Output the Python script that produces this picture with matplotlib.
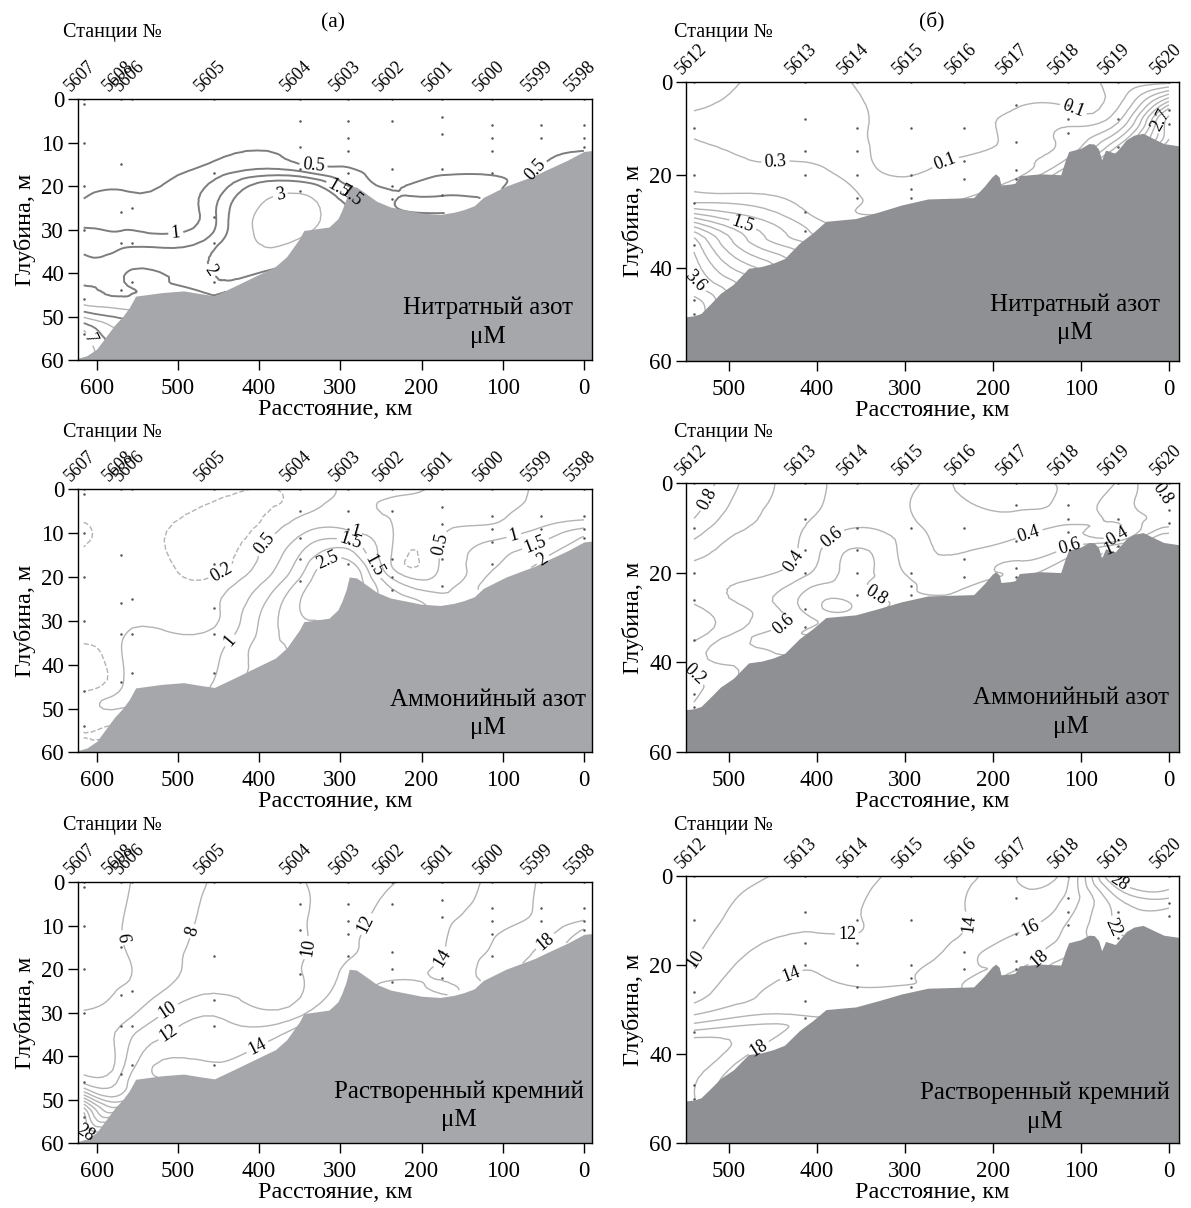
import numpy as np
import matplotlib
matplotlib.use('Agg')
import matplotlib.pyplot as plt
import matplotlib.tri as mtri

# Fuente tipo Times con cirilico
plt.rcParams['font.family'] = ['Liberation Serif', 'DejaVu Serif']

# ---------------- Seccion (а): estaciones 5607-5598 ----------------
st_izq = ['5607', '5608', '5606', '5605', '5604', '5603', '5602', '5601', '5600', '5599', '5598']
km_izq = [616, 570, 556, 456, 350, 290, 236, 175, 113, 53, 0]
# profundidades de muestreo en cada estacion, m
prof_izq = [
    [0, 1, 10, 20, 30, 46, 54],
    [0, 15, 26, 33, 44],
    [0, 25, 33, 42],
    [0, 17, 27, 33, 42],
    [0, 5, 11, 16, 21],
    [0, 5, 9, 12, 17],
    [0, 5, 16, 20, 23],
    [0, 4, 8, 16, 22],
    [0, 6, 9, 12, 17],
    [0, 6, 9],
    [0, 6, 9, 11],
]
# relieve del fondo
fondo_km_izq = [623, 612, 600, 590, 578, 568, 560, 552, 520, 493, 470, 455, 430, 399, 380,
                366, 350, 345, 314, 303, 298, 293, 289, 280, 270, 255, 238, 200, 177, 160,
                148, 135, 124, 96, 60, 48, 20, 0, -10]
fondo_m_izq = [59.6, 59, 57.5, 55, 52, 50, 48, 45.3, 44.5, 44.1, 44.8, 45.2, 43, 40.2, 38.5,
               36.2, 32, 30.2, 29.4, 27.5, 25.5, 23, 20, 20.2, 21.5, 23.5, 24.8, 26.2, 26.5, 26,
               25.4, 24.5, 22.6, 20, 17.5, 16.4, 14, 12, 11.8]

# nitratos, uM (ultimo arreglo: valor junto al fondo de cada estacion)
no3_izq = [
    [0.1, 0.1, 0.15, 0.3, 1.05, 2.5, 7.3],
    [0.1, 0.2, 0.8, 1.3, 1.9],
    [0.1, 0.7, 1.35, 2.05],
    [0.1, 0.8, 1.4, 1.8, 1.95],
    [0.1, 0.15, 0.3, 0.8, 2.8],
    [0.1, 0.1, 0.15, 0.25, 0.6],
    [0.1, 0.1, 0.3, 0.45, 0.55],
    [0.1, 0.1, 0.1, 0.3, 0.55],
    [0.1, 0.1, 0.1, 0.2, 0.45],
    [0.1, 0.1, 0.1],
    [0.1, 0.1, 0.1, 0.2],
]
no3_izq_fondo = [8.0, 4.0, 2.3, 2.0, 3.0, 1.2, 0.6, 0.6, 0.55, 0.55, 0.55]

# amonio, uM
nh4_izq = [
    [0.3, 0.3, 0.18, 0.3, 0.35, 0.18, 0.25],
    [0.3, 0.3, 0.4, 0.45, 0.45],
    [0.3, 0.4, 0.55, 0.62],
    [0.3, 0.12, 0.4, 0.62, 0.95],
    [0.3, 0.4, 1.05, 1.6, 2.1],
    [0.55, 0.6, 0.95, 1.6, 2.7],
    [0.6, 0.45, 0.45, 0.9, 1.55],
    [0.45, 0.4, 0.4, 0.55, 0.8],
    [0.4, 0.45, 0.6, 1.05, 1.4],
    [0.55, 0.7, 1.05],
    [0.55, 0.8, 1.55, 2.05],
]
nh4_izq_fondo = [0.3, 0.45, 0.62, 1.05, 2.3, 3.0, 1.8, 1.2, 1.8, 2.05, 2.2]

# silicio, uM
si_izq = [
    [5, 5, 5, 5.2, 6.3, 9.6, 27],
    [5.5, 5.9, 6.3, 8.05, 10.0],
    [6.1, 6.5, 9.0, 11.5],
    [8.1, 8.8, 10.5, 12.5, 14.1],
    [9.9, 9.8, 9.8, 9.8, 9.9],
    [10.5, 11, 11.3, 11.5, 11.8],
    [11.9, 12.5, 13, 13.5, 14.1],
    [12.8, 13.2, 13.6, 13.9, 14.1],
    [14.5, 14.8, 15.2, 15.8, 16.5],
    [16.1, 16.2, 16.5],
    [16.1, 16.5, 18.2, 20.2],
]
si_izq_fondo = [30, 14, 12.5, 14.5, 13, 12.5, 14.5, 14.5, 17, 18.5, 21]

# ---------------- Seccion (б): estaciones 5612-5620 ----------------
st_der = ['5612', '5613', '5614', '5615', '5616', '5617', '5618', '5619', '5620']
km_der = [540, 414, 355, 293, 233, 174, 115, 58, 0]
prof_der = [
    [0, 10, 20, 26, 35, 47, 50],
    [0, 8, 15, 20, 28, 32],
    [0, 10, 15, 20, 25],
    [0, 10, 20, 23, 25],
    [0, 10, 17, 21],
    [0, 5, 13, 19, 21],
    [0, 5, 8, 11],
    [0, 8, 14],
    [0, 6, 9],
]
fondo_km_der = [549, 540, 532, 520, 510, 495, 478, 463, 450, 437, 420, 405, 390, 356, 330,
                304, 274, 222, 210, 201, 197, 193, 191, 180, 175, 170, 146, 123, 118, 114,
                100, 91, 85, 80, 76.5, 72, 61, 55, 48.6, 40, 29.5, 20, 6, -11.4]
fondo_m_der = [50.5, 50.3, 49.8, 47.5, 45.5, 43.5, 40.1, 39.7, 39, 38, 34.7, 32.5, 30, 29.4, 28,
               26.5, 25.2, 24.9, 22.5, 20.4, 19.8, 20.5, 22.2, 22, 21.8, 20.2, 19.8, 20, 17, 15,
               14.3, 13.3, 13.4, 14.5, 16.8, 14.7, 15.4, 14, 12.5, 11.5, 11.1, 12, 13.3, 13.8]

no3_der = [
    [0.35, 0.28, 0.5, 0.9, 3.2, 4.0, 4.2],
    [0.2, 0.2, 0.25, 0.35, 0.62, 0.95],
    [0.09, 0.12, 0.15, 0.22, 0.32],
    [0.06, 0.07, 0.09, 0.15, 0.2],
    [0.05, 0.08, 0.15, 0.22],
    [0.05, 0.09, 0.15, 0.25, 0.32],
    [0.07, 0.09, 0.2, 0.35],
    [0.12, 0.5, 1.55],
    [0.15, 2.5, 3.3],
]
no3_der_fondo = [4.2, 1.1, 0.35, 0.25, 0.28, 0.4, 0.5, 1.7, 3.5]

nh4_der = [
    [1.0, 0.72, 0.35, 0.25, 0.18, 0.15, 0.22],
    [0.35, 0.38, 0.45, 0.55, 0.85, 0.75],
    [0.5, 0.6, 0.82, 0.85, 0.9],
    [0.45, 0.45, 0.55, 0.62, 0.65],
    [0.15, 0.3, 0.45, 0.55],
    [0.15, 0.18, 0.42, 0.62, 0.7],
    [0.22, 0.25, 0.32, 0.45],
    [0.42, 0.45, 0.9],
    [0.95, 0.75, 0.7],
]
nh4_der_fondo = [0.22, 0.8, 0.9, 0.7, 0.65, 0.75, 0.7, 1.05, 1.05]

si_der = [
    [8.5, 9, 10.1, 11, 18.5, 20.1, 20.1],
    [10.5, 11.5, 12.5, 13.8, 15, 16.5],
    [11.5, 11.9, 12.3, 13.1, 14.1],
    [12.5, 13.1, 13.5, 13.9, 14.5],
    [13.5, 13.9, 15, 15.5],
    [14.1, 14.6, 16.0, 17.3, 17.8],
    [15.5, 16.5, 17.3, 18.2],
    [29.5, 22.6, 21.6],
    [30, 25, 23],
]
si_der_fondo = [20.1, 17, 15.1, 15.1, 16.1, 18.3, 18.8, 21.5, 22.5]

gris_claro = '#b3b3b3'
gris_osc = '#7d7d7d'
tierra_izq = '#a6a7aa'
tierra_der = '#8f9093'

fig = plt.figure(figsize=(11.91, 12.08), dpi=100)


def seccion(rect, kms, profs, vals, vals_fondo, fkm, fm, nombres, xlim, xticks, yticks,
            niveles, suelo, colores, estilos, grosores, etiquetas, titulo):
    ax = fig.add_axes(rect)
    ax.set_xlim(*xlim)
    ax.set_ylim(60, 0)
    # nodos: muestras y un punto junto al fondo en cada estacion
    fkm_a = np.array(fkm, float)[::-1]
    fm_a = np.array(fm, float)[::-1]
    fondo_est = np.interp(kms, fkm_a, fm_a)
    x, y, z = [], [], []
    mx, my = [], []
    for k, ds, vs, vf, fd in zip(kms, profs, vals, vals_fondo, fondo_est):
        x += [k] * len(ds)
        y += list(ds)
        z += list(vs)
        mx += [k] * len(ds)
        my += list(ds)
        x.append(k)
        y.append(max(fd, ds[-1] + 0.5))
        z.append(vf)
    x = np.array(x, float)
    y = np.array(y, float)
    z = np.array(z, float)
    # triangulacion en coordenadas escaladas y refinamiento suave
    t = mtri.Triangulation(x, y * 8)
    tf, zf = mtri.UniformTriRefiner(t).refine_field(z, subdiv=3)
    tf = mtri.Triangulation(tf.x, tf.y / 8, tf.triangles)
    cs = ax.tricontour(tf, zf, levels=niveles, colors=colores, linestyles=estilos,
                       linewidths=grosores, zorder=2)
    ax.plot(mx, my, 'o', ms=1.8, color='#555555', mec='none', zorder=2.5)
    ax.fill_between(fkm, fm, 65, color=suelo, lw=0, zorder=3)
    ax.clabel(cs, fmt='%g', fontsize=13, inline=True, inline_spacing=3, colors='k',
              manual=etiquetas)

    ax.set_xticks(xticks)
    ax.set_yticks(yticks)
    ax.tick_params(direction='out', length=7, width=1, labelsize=16.5,
                   top=False, right=False)
    ax.tick_params(axis='x', pad=6)
    ax.tick_params(axis='y', pad=3)
    for s in ax.spines.values():
        s.set_linewidth(1.0)
        s.set_zorder(5)
    ax.set_xlabel('Расстояние, км', fontsize=17.5, labelpad=0)
    ax.set_ylabel('Глубина, м', fontsize=17.5, labelpad=4)
    for k, n in zip(kms, nombres):
        ax.annotate(n, (k, 0), xytext=(-7, 3), textcoords='offset points', rotation=45,
                    rotation_mode='anchor', ha='left', va='bottom', fontsize=13,
                    annotation_clip=False)
    tx, ty1, ty2 = titulo[1], titulo[2], titulo[3]
    ax.text(tx, ty1, titulo[0], transform=ax.transAxes, ha='center', va='center',
            fontsize=18, zorder=6)
    ax.text(tx, ty2, 'μM', transform=ax.transAxes, ha='center', va='center',
            fontsize=18, zorder=6)
    return ax


xl_izq = (623, -10)
xl_der = (549, -11.4)
xt_izq = [600, 500, 400, 300, 200, 100, 0]
xt_der = [500, 400, 300, 200, 100, 0]
yt_izq = [0, 10, 20, 30, 40, 50, 60]
yt_der = [0, 20, 40, 60]

# --- Nitratos (а)
niv = [0.5, 1, 1.5, 2, 3, 4, 5, 6, 7]
col = [gris_osc, gris_osc, gris_osc, gris_osc, gris_claro, gris_osc, gris_claro, gris_osc, gris_claro]
grs = [1.4, 1.4, 1.4, 1.4, 1.0, 1.3, 1.0, 1.3, 1.0]
seccion([0.0655, 0.7020, 0.4316, 0.2158], km_izq, prof_izq, no3_izq, no3_izq_fondo,
        fondo_km_izq, fondo_m_izq, st_izq, xl_izq, xt_izq, yt_izq, niv, tierra_izq,
        col, 'solid', grs,
        [(333, 14.7), (66, 15.2), (505, 27), (443, 37.7), (373, 23), (304, 21.3),
         (288, 22), (611, 55.4)],
        ('Нитратный азот', 0.798, 0.20, 0.088))

# --- Nitratos (б)
niv = [0.1, 0.3, 0.6, 0.9, 1.2, 1.5, 1.8, 2.1, 2.4, 2.7, 3.0, 3.3, 3.6, 3.9]
seccion([0.5760, 0.7012, 0.4139, 0.2312], km_der, prof_der, no3_der, no3_der_fondo,
        fondo_km_der, fondo_m_der, st_der, xl_der, xt_der, yt_der, niv, tierra_der,
        gris_claro, 'solid', 1.0,
        [(105, 4.3), (262, 14), (448, 15), (484, 30.4), (535, 42.5), (8.4, 8.2)],
        ('Нитратный азот', 0.789, 0.20, 0.10))

# --- Amonio (а)
niv = [0.2, 0.5, 1, 1.5, 2, 2.5]
est = ['dashed', 'solid', 'solid', 'solid', 'solid', 'solid']
seccion([0.0655, 0.3772, 0.4316, 0.2177], km_izq, prof_izq, nh4_izq, nh4_izq_fondo,
        fondo_km_izq, fondo_m_izq, st_izq, xl_izq, xt_izq, yt_izq, niv, tierra_izq,
        gris_claro, est, 1.0,
        [(448, 18.4), (395, 12), (432, 35.2), (314, 16.9), (288, 12.3), (283, 10.4),
         (262, 17.7), (163, 13.1), (86, 10.8), (60, 12.3), (53, 15.4)],
        ('Аммонийный азот', 0.798, 0.199, 0.092))

# --- Amonio (б)
niv = [0.2, 0.4, 0.6, 0.8, 1.0]
seccion([0.5760, 0.3772, 0.4139, 0.2232], km_der, prof_der, nh4_der, nh4_der_fondo,
        fondo_km_der, fondo_m_der, st_der, xl_der, xt_der, yt_der, niv, tierra_der,
        gris_claro, 'solid', 1.0,
        [(530, 3), (426, 17.6), (377, 13.5), (437, 32), (338, 26.8), (538, 42.4),
         (158, 12), (117, 12), (59, 11.6), (67, 15.4), (12, 3)],
        ('Аммонийный азот', 0.781, 0.201, 0.095))

# --- Silicio (а)
niv = [6, 8, 10, 12, 14, 16, 18, 20, 22, 24, 26, 28]
seccion([0.0655, 0.0536, 0.4316, 0.2161], km_izq, prof_izq, si_izq, si_izq_fondo,
        fondo_km_izq, fondo_m_izq, st_izq, xl_izq, xt_izq, yt_izq, niv, tierra_izq,
        gris_claro, 'solid', 1.0,
        [(566, 12.7), (472, 11.9), (316, 15.4), (243, 11.9), (514, 29), (507, 35.9),
         (399, 39), (163, 18.9), (50, 13.1), (612, 57.5)],
        ('Растворенный кремний', 0.741, 0.198, 0.089))

# --- Silicio (б)
niv = [10, 12, 14, 16, 18, 20, 22, 24, 26, 28]
seccion([0.5760, 0.0536, 0.4139, 0.2213], km_der, prof_der, si_der, si_der_fondo,
        fondo_km_der, fondo_m_der, st_der, xl_der, xt_der, yt_der, niv, tierra_der,
        gris_claro, 'solid', 1.0,
        [(529, 19.8), (366, 13), (433, 19.8), (225, 10.8), (154, 13), (145, 19.4),
         (467, 38.4), (58, 1.9), (53, 10.8)],
        ('Растворенный кремний', 0.728, 0.188, 0.081))

# Textos generales
for xs, ys in [(0.053, 0.9727), (0.5655, 0.9727), (0.053, 0.6416), (0.5655, 0.6416),
               (0.053, 0.317), (0.5655, 0.317)]:
    fig.text(xs, ys, 'Станции №', fontsize=14.5, ha='left', va='center')
fig.text(0.2796, 0.981, '(а)', fontsize=15.5, ha='center', va='center')
fig.text(0.7825, 0.981, '(б)', fontsize=15.5, ha='center', va='center')

fig.savefig('out.png', dpi=100)
